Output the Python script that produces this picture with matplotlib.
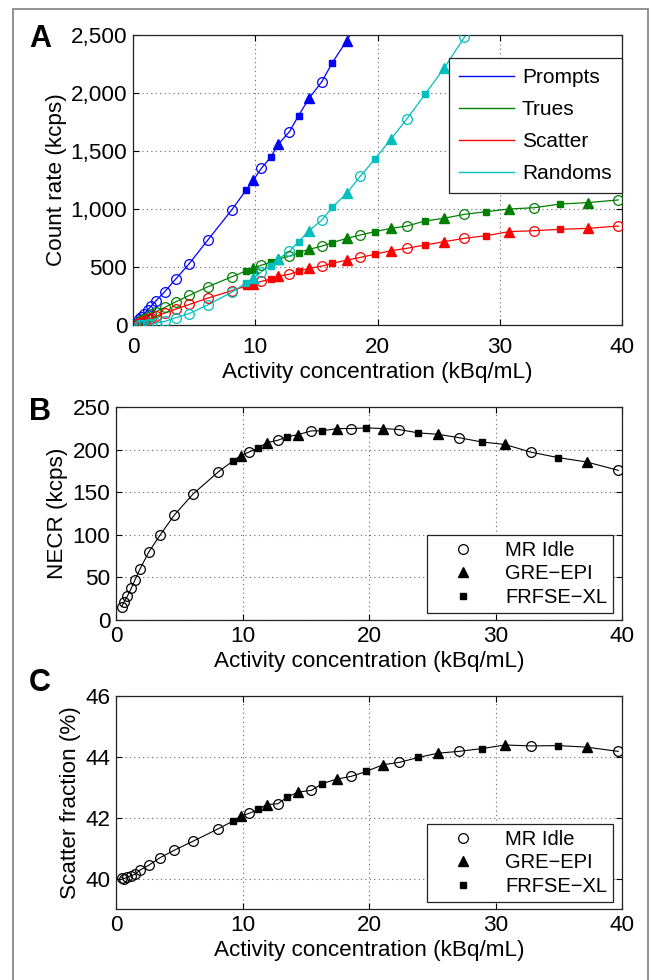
# PET count rates vs activity concentration (MR idle / GRE-EPI / FRFSE-XL)
import numpy as np
import matplotlib
matplotlib.use("Agg")
import matplotlib.pyplot as plt
from matplotlib.lines import Line2D
from matplotlib.patches import Rectangle
from matplotlib.ticker import FuncFormatter

plt.rcParams['font.family'] = ['Liberation Sans', 'DejaVu Sans']

nan = np.nan

# MR Idle (open circles)
idle_x = [0.45, 0.65, 0.9, 1.2, 1.5, 1.9, 2.6, 3.5, 4.6, 6.1, 8.1, 10.5, 12.8, 15.45,
          18.6, 22.4, 27.1, 32.8, 39.7]
idle_prompts = [50, 70, 96, 129, 165, 211, 288, 397, 529, 730, 995, 1351, 1667, 2098,
                2643, nan, nan, nan, nan]
idle_trues = [29, 41, 55, 73, 92, 116, 152, 200, 255, 329, 416, 516, 593, 680,
              776, 853, 954, 1011, 1078]
idle_scatter = [20, 27, 37, 49, 62, 78, 103, 137, 177, 231, 297, 376, 438, 508,
                583, 661, 747, 813, 853]
idle_randoms = [1, 2, 4, 7, 11, 17, 31, 63, 99, 172, 284, 459, 636, 905,
                1284, 1776, 2480, nan, nan]
idle_necr = [15.6, 21.5, 28, 37, 47, 60, 80, 100, 123, 148, 174, 197, 211, 222,
             224.7, 223.5, 214, 197, 175.7]
idle_sf = [40.03, 40.0, 40.05, 40.1, 40.14, 40.28, 40.44, 40.69, 40.93, 41.23, 41.64,
           42.14, 42.46, 42.9, 43.36, 43.82, 44.18, 44.36, 44.18]

# GRE-EPI (filled triangles)
gre_x = [9.85, 11.9, 14.4, 17.48, 21.1, 25.44, 30.76, 37.2]
gre_prompts = [1250, 1560, 1954, 2451, nan, nan, nan, nan]
gre_trues = [491, 570, 652, 747, 833, 920, 1000, 1055]
gre_scatter = [356, 420, 489, 560, 641, 718, 805, 833]
gre_randoms = [403, 570, 813, 1135, 1603, 2213, nan, nan]
gre_necr = [193, 208, 217.6, 224.7, 224.7, 218, 206, 185.5]
gre_sf = [42.05, 42.43, 42.84, 43.27, 43.74, 44.12, 44.39, 44.32]

# FRFSE-XL (filled squares)
fse_x = [9.25, 11.25, 13.54, 16.3, 19.77, 23.9, 28.9, 34.95]
fse_prompts = [1164, 1445, 1805, 2261, nan, nan, nan, nan]
fse_trues = [466, 540, 623, 710, 805, 897, 977, 1043]
fse_scatter = [336, 395, 464, 531, 609, 690, 770, 825]
fse_randoms = [362, 510, 718, 1014, 1428, 1991, 2820, nan]
fse_necr = [186.7, 202, 215, 222, 225.5, 219.6, 209, 190.6]
fse_sf = [41.89, 42.27, 42.68, 43.12, 43.52, 43.98, 44.27, 44.37]

W, H = 652, 980
fig = plt.figure(figsize=(W / 100, H / 100), dpi=100)

# grey outer frame
fig.patches.append(Rectangle((13 / W, -0.02), (648 - 13) / W, 1 - 9 / H + 0.02,
                             transform=fig.transFigure, fill=False,
                             edgecolor='#8a8a8a', lw=1.3))

FS = 16.2


def style_axes(ax, pad=4.5):
    ax.tick_params(direction='in', top=True, right=True, labelsize=FS,
                   length=4, width=0.8, pad=4)
    ax.tick_params(axis='x', pad=pad)
    ax.grid(True, linestyle=(0, (1, 3)), color='#666666', lw=0.8)
    for s in ax.spines.values():
        s.set_linewidth(0.9)
        s.set_color('#222222')
    ax.set_xlim(0, 40)
    ax.set_xticks([0, 10, 20, 30, 40])
    ax.set_xlabel('Activity concentration (kBq/mL)', fontsize=FS, labelpad=3)


def series(ax, ys, color, lw=0.9):
    xs = np.concatenate([idle_x, gre_x, fse_x])
    yy = np.concatenate(ys)
    order = np.argsort(xs)
    xs, yy = xs[order], yy[order]
    ok = ~np.isnan(yy)
    ax.plot(xs[ok], yy[ok], '-', color=color, lw=lw, zorder=2)
    ax.plot(idle_x, ys[0], 'o', mfc='none', mec=color, ms=7, mew=0.9, zorder=3)
    ax.plot(gre_x, ys[1], '^', mfc=color, mec=color, ms=6.5, zorder=3)
    ax.plot(fse_x, ys[2], 's', mfc=color, mec=color, ms=5, zorder=3)


# ---- A: count rates
axA = fig.add_axes([133 / W, 1 - 325 / H, (622 - 133) / W, 290 / H])
colors = {'Prompts': '#0000ff', 'Trues': '#008000', 'Scatter': '#ff0000', 'Randoms': '#00bfbf'}
series(axA, [idle_prompts, gre_prompts, fse_prompts], colors['Prompts'])
series(axA, [idle_trues, gre_trues, fse_trues], colors['Trues'])
series(axA, [idle_scatter, gre_scatter, fse_scatter], colors['Scatter'])
series(axA, [idle_randoms, gre_randoms, fse_randoms], colors['Randoms'])
style_axes(axA, pad=8.5)
axA.set_ylim(0, 2500)
axA.set_yticks([0, 500, 1000, 1500, 2000, 2500])
axA.yaxis.set_major_formatter(FuncFormatter(lambda v, p: f'{int(v):,}'))
axA.set_ylabel('Count rate (kcps)', fontsize=FS, labelpad=3)
handles = [Line2D([], [], color=c, lw=1) for c in colors.values()]
legA = axA.legend(handles, list(colors.keys()), loc='upper right',
                  bbox_to_anchor=(1.0, 0.921), fontsize=15, frameon=True,
                  fancybox=False, edgecolor='#222222', framealpha=1,
                  handlelength=2.6, handletextpad=0.4, labelspacing=0.62,
                  borderpad=0.5, borderaxespad=0)
legA.get_frame().set_linewidth(0.9)


def marker_legend(ax):
    hs = [Line2D([], [], ls='none', marker='o', mfc='none', mec='k', ms=7, mew=0.9),
          Line2D([], [], ls='none', marker='^', mfc='k', mec='k', ms=6.5),
          Line2D([], [], ls='none', marker='s', mfc='k', mec='k', ms=5)]
    leg = ax.legend(hs, ['MR Idle', 'GRE\u2212EPI', 'FRFSE\u2212XL'], loc='lower right',
                    bbox_to_anchor=(0.983, 0.033), fontsize=14.5, frameon=True,
                    fancybox=False, edgecolor='#222222', framealpha=1,
                    handlelength=3.0, handletextpad=0.6, labelspacing=0.22,
                    borderpad=0.3, borderaxespad=0)
    leg.get_frame().set_linewidth(0.9)


# ---- B: NECR
axB = fig.add_axes([116 / W, 1 - 620 / H, (622 - 116) / W, 213 / H])
series(axB, [idle_necr, gre_necr, fse_necr], 'k', lw=0.8)
style_axes(axB)
axB.set_ylim(0, 250)
axB.set_yticks([0, 50, 100, 150, 200, 250])
axB.set_ylabel('NECR (kcps)', fontsize=FS, labelpad=3)
marker_legend(axB)

# ---- C: scatter fraction
axC = fig.add_axes([116 / W, 1 - 909 / H, (622 - 116) / W, 213 / H])
series(axC, [idle_sf, gre_sf, fse_sf], 'k', lw=0.8)
style_axes(axC)
axC.set_ylim(39, 46)
axC.set_yticks([40, 42, 44, 46])
axC.set_ylabel('Scatter fraction (%)', fontsize=FS, labelpad=3)
marker_legend(axC)

for lab, y in [('A', 39), ('B', 412), ('C', 683)]:
    fig.text(40 / W, 1 - y / H, lab, fontsize=22, fontweight='bold',
             ha='center', va='center')

fig.savefig('out.png', dpi=100)
